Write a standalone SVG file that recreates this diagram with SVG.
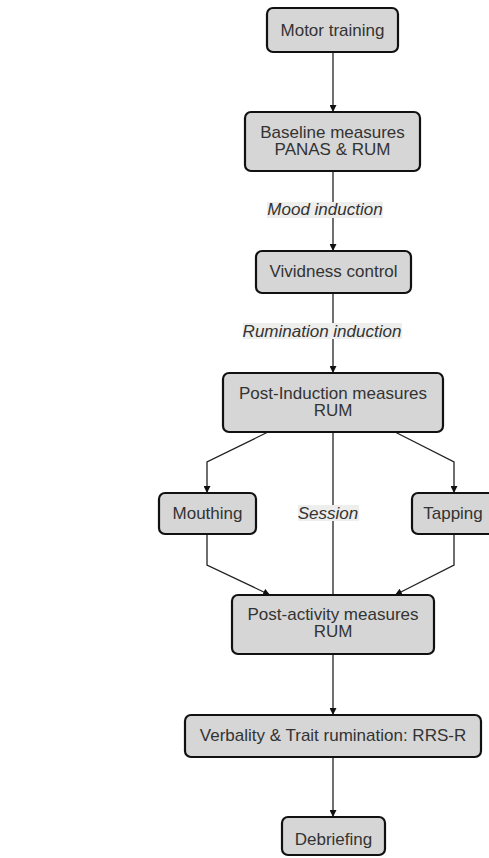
<svg xmlns="http://www.w3.org/2000/svg" width="489" height="858" viewBox="0 0 489 858">
<style>
.box{fill:#d6d6d6;stroke:#111;stroke-width:2.2}
.t{font-family:"Liberation Sans",Arial,sans-serif;font-size:17px;fill:#333;text-anchor:middle}
.lb{font-family:"Liberation Sans",Arial,sans-serif;font-size:17px;fill:#333;text-anchor:middle;font-style:italic}
.lbg{fill:#eeeeec}
.c{fill:none;stroke:#222;stroke-width:1.3}
</style>
<defs>
<marker id="ah" viewBox="0 0 10 10" refX="10" refY="5" markerWidth="7" markerHeight="7" markerUnits="userSpaceOnUse" orient="auto">
<path d="M0,0 L10,5 L0,10 z" fill="#111"/>
</marker>
</defs>
<rect width="489" height="858" fill="#fff"/>
<g id="connectors">
<path class="c" d="M333,52 V112" marker-end="url(#ah)"/>
<path class="c" d="M333,171 V251" marker-end="url(#ah)"/>
<path class="c" d="M333,293 V373" marker-end="url(#ah)"/>
<path class="c" d="M268,432 L207,462 V493" marker-end="url(#ah)"/>
<path class="c" d="M395,432 L454,462 V493" marker-end="url(#ah)"/>
<path class="c" d="M333,432 V595"/>
<path class="c" d="M207,534 V565 L270,595" marker-end="url(#ah)"/>
<path class="c" d="M454,534 V565 L395,595" marker-end="url(#ah)"/>
<path class="c" d="M333,654 V715" marker-end="url(#ah)"/>
<path class="c" d="M333,757 V817" marker-end="url(#ah)"/>
</g>
<g id="label-mood">
<rect class="lbg" x="267" y="202" width="116" height="16"/>
<text class="lb" x="325" y="215">Mood induction</text>
</g>
<g id="label-rumination">
<rect class="lbg" x="243" y="323" width="159" height="16"/>
<text class="lb" x="322" y="337">Rumination induction</text>
</g>
<g id="label-session">
<rect class="lbg" x="298" y="505" width="61" height="16"/>
<text class="lb" x="328" y="519">Session</text>
</g>
<g id="motor">
<rect class="box" x="267" y="8" width="131" height="44" rx="6"/>
<text class="t" x="332.5" y="36">Motor training</text>
</g>
<g id="baseline">
<rect class="box" x="245" y="112" width="175" height="59" rx="6"/>
<text class="t" x="332.5" y="138">Baseline measures</text>
<text class="t" x="332.5" y="155">PANAS &amp; RUM</text>
</g>
<g id="vividness">
<rect class="box" x="256" y="251" width="155" height="42" rx="6"/>
<text class="t" x="333.5" y="277">Vividness control</text>
</g>
<g id="postinduction">
<rect class="box" x="223" y="373" width="220" height="59" rx="6"/>
<text class="t" x="333" y="399">Post-Induction measures</text>
<text class="t" x="333" y="416">RUM</text>
</g>
<g id="mouthing">
<rect class="box" x="159" y="493" width="97" height="41" rx="6"/>
<text class="t" x="207.5" y="519">Mouthing</text>
</g>
<g id="tapping">
<rect class="box" x="412" y="493" width="86" height="41" rx="6"/>
<text class="t" x="453" y="519">Tapping</text>
</g>
<g id="postactivity">
<rect class="box" x="232" y="595" width="202" height="59" rx="6"/>
<text class="t" x="333" y="620">Post-activity measures</text>
<text class="t" x="333" y="637">RUM</text>
</g>
<g id="verbality">
<rect class="box" x="185" y="715" width="296" height="42" rx="6"/>
<text class="t" x="333" y="741">Verbality &amp; Trait rumination: RRS-R</text>
</g>
<g id="debriefing">
<rect class="box" x="282" y="817" width="103" height="38" rx="6"/>
<text class="t" x="333.5" y="845">Debriefing</text>
</g>
</svg>
